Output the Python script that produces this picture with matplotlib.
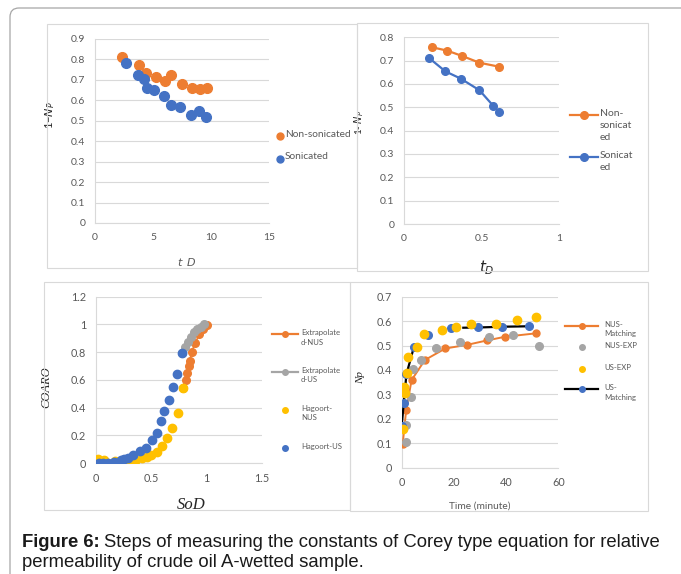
import numpy as np
import matplotlib
matplotlib.use("Agg")
import matplotlib.pyplot as plt
from matplotlib.lines import Line2D
from matplotlib.patches import Rectangle, FancyBboxPatch
from matplotlib.transforms import IdentityTransform

# ---------------- data ----------------
# Panel 1: 1-Np vs t_D (scatter)
p1_nonson_t = [2.36, 3.82, 4.40, 5.26, 6.06, 6.58, 7.47, 8.39, 9.05, 9.63]
p1_nonson_y = [0.810, 0.772, 0.732, 0.713, 0.697, 0.723, 0.680, 0.659, 0.654, 0.662]
p1_son_t = [2.70, 3.71, 4.25, 4.51, 5.11, 5.92, 6.58, 7.36, 8.28, 9.00, 9.60]
p1_son_y = [0.781, 0.723, 0.703, 0.659, 0.649, 0.622, 0.579, 0.566, 0.530, 0.546, 0.517]

# Panel 2: 1-Np vs tD (lines with markers)
p2_nonson_t = [0.183, 0.278, 0.375, 0.487, 0.614]
p2_nonson_y = [0.757, 0.743, 0.720, 0.691, 0.674]
p2_son_t = [0.162, 0.267, 0.366, 0.487, 0.575, 0.616]
p2_son_y = [0.711, 0.654, 0.623, 0.573, 0.507, 0.479]

# Panel 3: COARO vs SoD
p3_hag_nus_x = [0.018, 0.078, 0.174, 0.22, 0.31, 0.358, 0.415, 0.46, 0.50, 0.55, 0.60, 0.646, 0.685, 0.74, 0.785]
p3_hag_nus_y = [0.026, 0.022, 0.014, 0.007, 0.007, 0.014, 0.034, 0.046, 0.058, 0.082, 0.125, 0.178, 0.255, 0.363, 0.543]
p3_hag_us_x = [0.03, 0.07, 0.11, 0.165, 0.225, 0.255, 0.295, 0.34, 0.40, 0.45, 0.505, 0.55, 0.585, 0.615, 0.66, 0.695, 0.73, 0.78]
p3_hag_us_y = [0.0, 0.0, 0.0, 0.01, 0.02, 0.027, 0.035, 0.06, 0.085, 0.11, 0.165, 0.22, 0.30, 0.375, 0.455, 0.55, 0.64, 0.795]
p3_ext_nus_x = [0.785, 0.81, 0.827, 0.839, 0.848, 0.866, 0.896, 0.935, 0.971, 1.0]
p3_ext_nus_y = [0.543, 0.60, 0.647, 0.70, 0.736, 0.803, 0.863, 0.93, 0.97, 0.996]
p3_ext_us_x = [0.78, 0.806, 0.836, 0.86, 0.887, 0.917, 0.947, 0.977]
p3_ext_us_y = [0.795, 0.839, 0.875, 0.91, 0.943, 0.967, 0.984, 1.0]

# Panel 4: Np vs time (minute)
p4_nus_match_t = [0.38, 1.7, 3.8, 8.9, 16.7, 25.1, 32.7, 39.6, 51.4]
p4_nus_match_np = [0.096, 0.235, 0.359, 0.441, 0.488, 0.503, 0.521, 0.536, 0.550]
p4_nus_exp_t = [1.7, 1.7, 3.4, 4.5, 7.4, 13.3, 22.5, 33.4, 42.8, 52.7]
p4_nus_exp_np = [0.104, 0.175, 0.288, 0.402, 0.440, 0.490, 0.513, 0.533, 0.543, 0.500]
p4_us_exp_t = [0.64, 1.0, 1.3, 2.2, 2.6, 6.0, 8.7, 15.3, 20.7, 26.6, 36.0, 44.3, 51.6]
p4_us_exp_np = [0.157, 0.332, 0.304, 0.389, 0.454, 0.493, 0.546, 0.562, 0.578, 0.587, 0.588, 0.604, 0.617]
p4_us_match_t = [0.0, 0.8, 1.8, 4.7, 10.0, 18.9, 29.4, 38.3, 48.9]
p4_us_match_np = [0.171, 0.266, 0.382, 0.495, 0.542, 0.570, 0.574, 0.577, 0.579]
p4_us_line_t = [0.0, 0.8, 1.8, 4.7, np.nan, 23.6, 29.4, 38.3, 48.9]
p4_us_line_np = [0.171, 0.266, 0.382, 0.495, np.nan, 0.573, 0.574, 0.577, 0.579]

# ---------------- style ----------------
ORANGE = "#ED7D31"
BLUE = "#4472C4"
GRAY = "#A5A5A5"
YELLOW = "#FFC000"
TXT = "#595959"
GRID = "#D9D9D9"
SANS = ["Lato", "DejaVu Sans"]
SERIF = ["Liberation Serif", "DejaVu Serif"]

plt.rcParams["font.family"] = SANS

W, H = 681, 574
fig = plt.figure(figsize=(W / 100, H / 100), dpi=100)
fig.patch.set_facecolor("white")


def fx(x):
    return x / W


def fy(y):
    return 1 - y / H


def axes_px(x0, y0, x1, y1):
    return fig.add_axes([fx(x0), fy(y1), fx(x1) - fx(x0), (y1 - y0) / H])


def style_ax(ax, xlim, xticks, ylim, yticks, fs=7.5):
    ax.set_xlim(*xlim)
    ax.set_ylim(*ylim)
    ax.set_xticks(xticks)
    ax.set_yticks(yticks)
    ax.set_xticklabels([("%g" % v) for v in xticks])
    ax.set_yticklabels([("%g" % v) for v in yticks])
    for s in ["top", "right"]:
        ax.spines[s].set_visible(False)
    for s in ["left", "bottom"]:
        ax.spines[s].set_color(GRID)
        ax.spines[s].set_linewidth(0.8)
    ax.tick_params(length=0, labelsize=fs, labelcolor=TXT, pad=7)
    ax.grid(axis="y", color=GRID, linewidth=0.8)
    ax.set_axisbelow(True)
    ax.patch.set_alpha(0)


# outer rounded frame (in display pixels)
frame = FancyBboxPatch((10, -40), 720, H - 8 + 40, boxstyle="round,pad=0,rounding_size=9",
                       transform=IdentityTransform(), fill=False, edgecolor="#A6A6A6", linewidth=0.9)
fig.patches.append(frame)

# panel boxes
for (x0, y0, x1, y1) in [(46.5, 24, 357, 268), (357, 22.5, 648, 271),
                         (44.5, 282, 350, 510), (350, 282, 648, 511)]:
    fig.patches.append(Rectangle((fx(x0), fy(y1)), fx(x1) - fx(x0), (y1 - y0) / H,
                                 transform=fig.transFigure, fill=False,
                                 edgecolor=GRID, linewidth=0.8))


def legend_px(entries, text_x, fs, linespacing, hx0=None, hx1=None, mx=None):
    """entries: (kind, color, mcolor, y, text, markersize, linewidth)"""
    for kind, color, mcolor, y, text, ms, lw in entries:
        if kind == "line":
            fig.add_artist(Line2D([fx(hx0), fx(hx1)], [fy(y), fy(y)], transform=fig.transFigure,
                                  color=color, linewidth=lw))
            fig.add_artist(Line2D([fx((hx0 + hx1) / 2)], [fy(y)], transform=fig.transFigure,
                                  marker="o", markersize=ms, color=mcolor, linestyle="none"))
        else:
            fig.add_artist(Line2D([fx(mx)], [fy(y)], transform=fig.transFigure,
                                  marker="o", markersize=ms, color=mcolor, linestyle="none"))
        fig.text(fx(text_x), fy(y - fs * 1.389 * 0.62), text, ha="left", va="top", fontsize=fs,
                 color=TXT, linespacing=linespacing, transform=fig.transFigure)


# ---------------- panel 1 ----------------
ax1 = axes_px(95, 39, 269, 223)
style_ax(ax1, (0, 15), [0, 5, 10, 15], (0, 0.9), np.round(np.arange(0, 0.91, 0.1), 1))
ax1.plot(p1_nonson_t, p1_nonson_y, "o", color=ORANGE, markersize=7, zorder=3)
ax1.plot(p1_son_t, p1_son_y, "o", color=BLUE, markersize=7, zorder=3)
ax1.set_ylabel("1−$N_P$", fontsize=8, color="#262626", labelpad=4)
ax1.set_xlabel("t_D", fontsize=8, color=TXT, style="italic", family=["DejaVu Sans"])
ax1.xaxis.set_label_coords((187 - 95) / 174, -(257 - 223) / 184)
ax1.yaxis.set_label_coords(-(95 - 57) / 174, (223 - 115) / 184)
legend_px([("marker", ORANGE, ORANGE, 136, "Non-sonicated", 5, 0),
           ("marker", BLUE, BLUE, 158.5, "Sonicated", 5, 0)],
          text_x=285, fs=7.3, linespacing=1.2, mx=280)

# ---------------- panel 2 ----------------
ax2 = axes_px(404, 37.3, 559, 224)
style_ax(ax2, (0, 1), [0, 0.5, 1], (0, 0.8), np.round(np.arange(0, 0.81, 0.1), 1))
ax2.plot(p2_nonson_t, p2_nonson_y, "-o", color=ORANGE, markersize=5.5, linewidth=1.6, zorder=3)
ax2.plot(p2_son_t, p2_son_y, "-o", color=BLUE, markersize=5.5, linewidth=1.6, zorder=3)
ax2.set_ylabel("1- $N_P$", fontsize=7, color="#262626")
ax2.set_xlabel("$t_D$", fontsize=11, color="#262626")
ax2.xaxis.set_label_coords((487 - 404) / 155, -(258 - 224) / 186.7)
ax2.yaxis.set_label_coords(-(404 - 366) / 155, (224 - 122) / 186.7)
legend_px([("line", ORANGE, ORANGE, 115, "Non-\nsonicat\ned", 5.5, 1.6),
           ("line", BLUE, BLUE, 157, "Sonicat\ned", 5.5, 1.6)],
          text_x=600, fs=7.5, linespacing=1.45, hx0=570, hx1=598)

# ---------------- panel 3 ----------------
ax3 = axes_px(95.7, 296.7, 262, 463)
style_ax(ax3, (0, 1.5), [0, 0.5, 1, 1.5], (0, 1.2), np.round(np.arange(0, 1.21, 0.2), 1), fs=7.8)
ax3.set_yticklabels(["0", "0.2", "0.4", "0.6", "0.8", "1", "1.2"])
ax3.plot(p3_ext_nus_x, p3_ext_nus_y, "-o", color=ORANGE, markersize=5.5, linewidth=1.2, zorder=3)
ax3.plot(p3_ext_us_x, p3_ext_us_y, "-o", color=GRAY, markersize=5.5, linewidth=1.2, zorder=4)
ax3.plot(p3_hag_nus_x, p3_hag_nus_y, "o", color=YELLOW, markersize=6, zorder=5)
ax3.plot(p3_hag_us_x, p3_hag_us_y, "o", color=BLUE, markersize=6, zorder=6)
ax3.set_ylabel("COARO", fontsize=9, family=SERIF, style="italic", color="#262626")
ax3.set_xlabel("SoD", fontsize=12, family=SERIF, style="italic", color="#262626")
ax3.xaxis.set_label_coords((191 - 95.7) / 166.3, -(497 - 463) / 166.3)
ax3.yaxis.set_label_coords(-(95.7 - 52.5) / 166.3, (463 - 387) / 166.3)
legend_px([("line", ORANGE, ORANGE, 334.3, "Extrapolate\nd-NUS", 4, 1.6),
           ("line", GRAY, GRAY, 372, "Extrapolate\nd-US", 4, 1.6),
           ("marker", YELLOW, YELLOW, 410, "Hagoort-\nNUS", 4, 0),
           ("marker", BLUE, BLUE, 447.7, "Hagoort-US", 4, 0)],
          text_x=301, fs=5.6, linespacing=1.35, hx0=272, hx1=298, mx=285)

# ---------------- panel 4 ----------------
ax4 = axes_px(401.7, 296.7, 558.3, 467.7)
style_ax(ax4, (0, 60), [0, 20, 40, 60], (0, 0.7), np.round(np.arange(0, 0.71, 0.1), 1), fs=7.8)
ax4.plot(p4_nus_match_t, p4_nus_match_np, "-o", color=ORANGE, markersize=5, linewidth=1.4, zorder=3)
ax4.plot(p4_nus_exp_t, p4_nus_exp_np, "o", color=GRAY, markersize=5.5, zorder=4)
ax4.plot(p4_us_line_t, p4_us_line_np, "-", color="black", linewidth=1.6, zorder=5)
ax4.plot(p4_us_match_t, p4_us_match_np, "o", color=BLUE, markersize=5.5, zorder=5)
ax4.plot(p4_us_exp_t, p4_us_exp_np, "o", color=YELLOW, markersize=6, zorder=6)
ax4.set_ylabel("Np", fontsize=8, family=SERIF, style="italic", color="#262626")
ax4.set_xlabel("Time (minute)", fontsize=7.3, color=TXT)
ax4.xaxis.set_label_coords((480 - 401.7) / 156.6, -(502 - 467.7) / 171)
ax4.yaxis.set_label_coords(-(401.7 - 365) / 156.6, (467.7 - 377) / 171)
legend_px([("line", ORANGE, ORANGE, 326, "NUS-\nMatching", 4, 1.6),
           ("marker", GRAY, GRAY, 347.3, "NUS-EXP", 4, 0),
           ("marker", YELLOW, YELLOW, 368.7, "US-EXP", 4, 0),
           ("line", "black", BLUE, 389.3, "US-\nMatching", 4, 1.6)],
          text_x=604, fs=5.6, linespacing=1.35, hx0=565, hx1=598, mx=582)

# ---------------- caption ----------------
CAP = ["Liberation Sans", "DejaVu Sans"]
CAP_FS = 13.3
t1 = fig.text(fx(22), fy(547), "Figure 6:", fontsize=CAP_FS, fontweight="bold", family=CAP,
              va="baseline", ha="left", color="#1a1a1a")
fig.canvas.draw()
bb = t1.get_window_extent()
fig.text((bb.x1 + 4) / W, fy(547), "Steps of measuring the constants of Corey type equation for relative",
         fontsize=CAP_FS, family=CAP, va="baseline", ha="left", color="#1a1a1a")
fig.text(fx(22), fy(567), "permeability of crude oil A-wetted sample.", fontsize=CAP_FS, family=CAP,
         va="baseline", ha="left", color="#1a1a1a")

fig.savefig("out.png", dpi=100, facecolor="white")
